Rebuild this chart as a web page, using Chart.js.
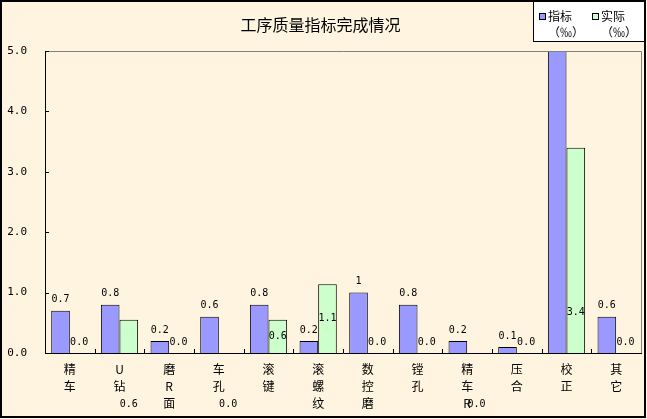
<!DOCTYPE html>
<html><head><meta charset="utf-8">
<script src="https://cdn.jsdelivr.net/npm/chart.js@4.4.1/dist/chart.umd.min.js"></script>
<style>html,body{margin:0;padding:0;background:#fff}#wrap{width:647px;height:419px}</style>
</head><body><div id="wrap"><canvas id="c" width="647" height="419"></canvas></div>
<script>
const chartTitle = '工序质量指标完成情况';
const categories = ['精车','U钻','磨R面','车孔','滚键','滚螺纹','数控磨','镗孔','精车R','压合','校正','其它'];
const targetValues = [0.7, 0.8, 0.2, 0.6, 0.8, 0.2, 1, 0.8, 0.2, 0.1, 5.5, 0.6];
const actualValues = [0, 0.55, 0, 0, 0.55, 1.14, 0, 0, 0, 0, 3.4, 0];
const seriesNames = [['指标', '（‰）'], ['实际', '（‰）']];
const yTicks = [0, 1, 2, 3, 4, 5];
// where each 实际 data label sits on the original chart
const actualLabelPlacement = ['end','below','end','below','center','center','end','end','below','end','inner','end'];

const seriesColors = ['#9999FF', '#CCFFCC'];
const labelFont = '10px "DejaVu Sans Mono"';

const decorPlugin = {
  id: 'decor',
  beforeDraw(chart) {
    const ctx = chart.ctx;
    ctx.save();
    ctx.fillStyle = '#FEF4DF';
    ctx.fillRect(0, 0, chart.width, chart.height);
    ctx.restore();
  },
  afterDatasetsDraw(chart) {
    const ctx = chart.ctx;
    const ys = chart.scales.y;
    ctx.save();
    ctx.font = labelFont;
    ctx.fillStyle = '#000';
    ctx.textAlign = 'center';
    ctx.textBaseline = 'middle';
    chart.data.datasets.forEach((ds, di) => {
      const meta = chart.getDatasetMeta(di);
      meta.data.forEach((el, i) => {
        const v = ds.data[i];
        if (v > ys.max) return;
        let y, txt;
        if (di === 0) {
          txt = String(v);
          y = el.y - 11;
        } else {
          txt = v.toFixed(1);
          const mode = actualLabelPlacement[i];
          if (mode === 'center') y = (el.y + el.base) / 2;
          else if (mode === 'below') y = el.base + 51;
          else if (mode === 'inner') y = el.base - 41;
          else y = el.y - 11;
        }
        ctx.fillText(txt, el.x, y);
      });
    });
    ctx.restore();
  },
  afterDraw(chart) {
    const ctx = chart.ctx, a = chart.chartArea;
    const ys = chart.scales.y, xs = chart.scales.x;
    ctx.save();
    // gray frame top/right
    ctx.strokeStyle = '#808080';
    ctx.lineWidth = 1;
    ctx.beginPath();
    ctx.moveTo(Math.round(a.left), Math.round(a.top) + 0.5);
    ctx.lineTo(Math.round(a.right) + 0.5, Math.round(a.top) + 0.5);
    ctx.lineTo(Math.round(a.right) + 0.5, Math.round(a.bottom));
    ctx.stroke();
    // inside ticks
    ctx.strokeStyle = '#000';
    ctx.beginPath();
    ys.ticks.forEach(t => {
      const p = Math.round(ys.getPixelForValue(t.value)) + 0.5;
      ctx.moveTo(a.left, p); ctx.lineTo(a.left + 4, p);
    });
    for (let i = 1; i < categories.length; i++) {
      const p = Math.round((xs.getPixelForValue(i - 1) + xs.getPixelForValue(i)) / 2) + 0.5;
      ctx.moveTo(p, a.bottom); ctx.lineTo(p, a.bottom - 4);
    }
    ctx.stroke();
    // legend
    const lx = 533, ly = 1, lw = 111, lh = 40;
    ctx.fillStyle = '#fff';
    ctx.fillRect(lx, ly, lw, lh);
    ctx.strokeStyle = '#000';
    ctx.lineWidth = 1;
    ctx.strokeRect(lx + 0.5, ly + 0.5, lw, lh);
    const itemX = [539, 592];
    ctx.font = '12px "Noto Sans CJK SC"';
    ctx.textBaseline = 'middle';
    ctx.textAlign = 'left';
    chart.data.datasets.forEach((ds, di) => {
      const x = itemX[di];
      ctx.fillStyle = ds.backgroundColor;
      ctx.fillRect(x + 0.5, 13.5, 6, 6);
      ctx.strokeRect(x + 0.5, 13.5, 6, 6);
      ctx.fillStyle = '#000';
      const lines = ds.label;
      ctx.fillText(lines[0], x + 9, 16);
      ctx.fillText(lines[1], x + 9, 32);
    });
    // outer border
    ctx.lineWidth = 2;
    ctx.strokeRect(1, 1, 644, 416);
    ctx.restore();
  }
};

new Chart(document.getElementById('c'), {
  type: 'bar',
  data: {
    labels: categories.map(c => c.split('')),
    datasets: [
      { label: seriesNames[0], data: targetValues, backgroundColor: seriesColors[0], borderColor: '#000', borderWidth: 1, borderSkipped: 'bottom' },
      { label: seriesNames[1], data: actualValues, backgroundColor: seriesColors[1], borderColor: '#000', borderWidth: 1, borderSkipped: 'bottom' }
    ]
  },
  options: {
    responsive: false,
    animation: false,
    devicePixelRatio: 1,
    layout: { padding: { left: 0, right: 6, top: 0, bottom: 0 } },
    datasets: { bar: { categoryPercentage: 0.75, barPercentage: 1 } },
    plugins: {
      legend: { display: false },
      tooltip: { enabled: false },
      title: {
        display: true,
        text: chartTitle,
        color: '#000',
        font: { family: '"Noto Sans CJK SC"', size: 16, weight: 'normal', lineHeight: 1.2 },
        padding: { top: 15.4, bottom: 16.4 }
      }
    },
    scales: {
      x: {
        grid: { display: false, drawTicks: false },
        border: { display: true, color: '#000', width: 1 },
        ticks: {
          color: '#000',
          padding: 8,
          maxRotation: 0,
          autoSkip: false,
          font: { family: '"Noto Sans CJK SC"', size: 12, lineHeight: '17px' }
        },
        afterFit(s) { s.height = 66; }
      },
      y: {
        min: 0,
        max: 5,
        grid: { display: false, drawTicks: false },
        border: { display: true, color: '#000', width: 1 },
        afterBuildTicks(s) { s.ticks = yTicks.map(v => ({ value: v })); },
        ticks: {
          color: '#000',
          padding: 18,
          font: { family: '"DejaVu Sans Mono"', size: 11 },
          callback: v => Number(v).toFixed(1)
        },
        afterFit(s) { s.width = 45; }
      }
    }
  },
  plugins: [decorPlugin]
});
</script>
</body></html>
